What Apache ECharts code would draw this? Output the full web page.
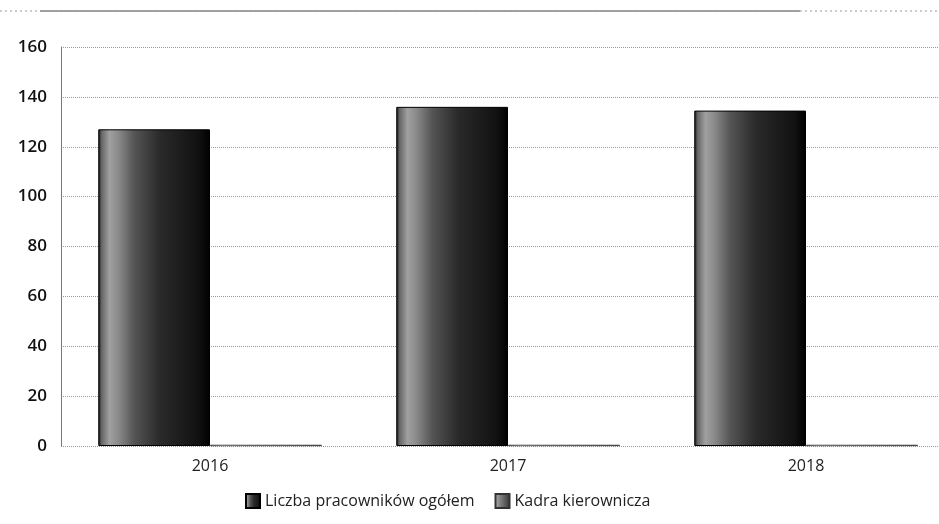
<!DOCTYPE html>
<html>
<head>
<meta charset="utf-8">
<script src="https://cdn.jsdelivr.net/npm/echarts@6/dist/echarts.min.js"></script>
<style>
  html, body { margin: 0; padding: 0; background: #fff; }
  #chart { width: 939px; height: 524px; }
</style>
</head>
<body>
<div id="chart"></div>
<script>
const years = ["2016", "2017", "2018"];
const ogolem = [127, 136, 134.5];
const kadra = [0.5, 0.5, 0.5];
const yTicks = [0, 20, 40, 60, 80, 100, 120, 140, 160];

const chart = echarts.init(document.getElementById("chart"));

// cylinder-like shading of the dark bars
function shade(stops) {
  return new echarts.graphic.LinearGradient(0, 0, 1, 0,
    stops.map((c) => ({ offset: c[0], color: c[1] })));
}
const darkBar = shade([
  [0, "#111"], [0.03, "#666"], [0.1, "#a0a0a0"], [0.18, "#8a8a8a"],
  [0.32, "#555"], [0.55, "#2a2a2a"], [0.9, "#111"], [1, "#000"]
]);
const lightBar = shade([
  [0, "#444"], [0.1, "#aaa"], [0.3, "#888"], [1, "#333"]
]);

const font = "Open Sans";

chart.setOption({
  animation: false,
  textStyle: { fontFamily: font },
  grid: { left: 61, top: 47, right: -16, bottom: 78, outerBoundsMode: "none" },
  legend: {
    bottom: 10,
    left: 240,
    itemWidth: 14,
    itemHeight: 14,
    itemGap: 20,
    icon: "rect",
    textStyle: { fontSize: 16, color: "#222", fontFamily: font },
    data: ["Liczba pracowników ogółem", "Kadra kierownicza"]
  },
  xAxis: {
    type: "category",
    data: years,
    axisLine: { show: false },
    axisTick: { show: false },
    axisLabel: { fontSize: 16, color: "#222", margin: 12 }
  },
  yAxis: {
    type: "value",
    min: yTicks[0],
    max: yTicks[yTicks.length - 1],
    interval: 20,
    axisLine: { show: true, lineStyle: { color: "#777", width: 1 } },
    axisTick: { show: false },
    axisLabel: { fontSize: 17, color: "#111", fontWeight: 600, margin: 14 },
    splitLine: { lineStyle: { color: "#999", type: "dotted", width: 1 } }
  },
  series: [
    {
      name: "Liczba pracowników ogółem",
      type: "bar",
      data: ogolem,
      barGap: "0%",
      barCategoryGap: "25%",
      itemStyle: { color: darkBar, borderColor: "#000", borderWidth: 1 }
    },
    {
      name: "Kadra kierownicza",
      type: "bar",
      data: kadra,
      itemStyle: { color: lightBar, borderColor: "#333", borderWidth: 0.5 }
    }
  ],
  graphic: [
    {
      type: "line",
      shape: { x1: 40, y1: 11, x2: 800, y2: 11 },
      style: { stroke: "#444", lineWidth: 1 }
    },
    {
      type: "line",
      shape: { x1: 0, y1: 11, x2: 939, y2: 11 },
      style: { stroke: "#999", lineWidth: 1, lineDash: [2, 3] }
    }
  ]
});
</script>
</body>
</html>
